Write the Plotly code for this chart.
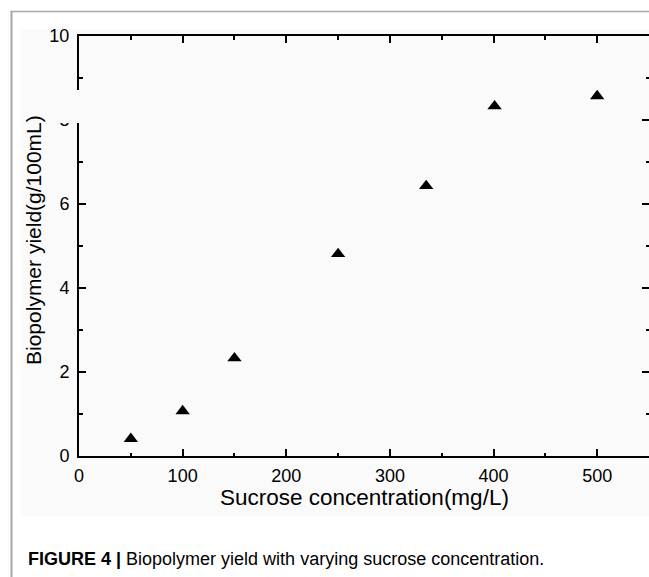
import plotly.graph_objects as go

# Data
sucrose = [50, 100, 150, 250, 335, 401, 500]
yield_g = [0.41, 1.07, 2.33, 4.81, 6.43, 8.33, 8.57]

x_title = "Sucrose concentration(mg/L)"
y_title = "Biopolymer yield(g/100mL)"
caption = "<b>FIGURE 4 |</b> Biopolymer yield with varying sucrose concentration."

W, H = 649, 577
L, R, T, B = 79, 0, 36, 121
PW = W - L - R
PH = H - T - B


def px(x):
    return (x - L) / PW


def py(y):
    return (H - B - y) / PH


FONT = "Liberation Sans, Arial, sans-serif"

fig = go.Figure()
fig.add_trace(go.Scatter(
    x=sucrose, y=yield_g, mode="markers",
    marker=dict(symbol="triangle-up", size=12.5, color="black"),
    showlegend=False, hoverinfo="x+y",
))
# invisible trace to carry the right-side tick axis
fig.add_trace(go.Scatter(
    x=sucrose, y=yield_g, mode="markers", yaxis="y2",
    marker=dict(opacity=0), showlegend=False, hoverinfo="skip",
))

tickfont = dict(family=FONT, size=18, color="black")

fig.update_layout(
    width=W, height=H,
    margin=dict(l=L, r=R, t=T, b=B, pad=0),
    paper_bgcolor="white",
    plot_bgcolor="rgba(0,0,0,0)",
    font=dict(family=FONT, color="black"),
    xaxis=dict(
        range=[0, 550], tickvals=[0, 100, 200, 300, 400, 500],
        showline=True, linecolor="black", linewidth=2, mirror="ticks",
        ticks="inside", ticklen=7, tickwidth=1.5, tickcolor="black",
        minor=dict(tickvals=[50, 150, 250, 350, 450, 550], ticks="inside",
                   ticklen=3.5, tickwidth=1.5, tickcolor="black"),
        showgrid=False, zeroline=False, tickfont=tickfont, ticklabelstandoff=2,
    ),
    yaxis=dict(
        range=[0, 10], tickvals=[0, 2, 4, 6, 8, 10],
        showline=True, linecolor="black", linewidth=2, mirror=False,
        ticks="inside", ticklen=7, tickwidth=1.5, tickcolor="black",
        minor=dict(tickvals=[1, 3, 5, 7, 9], ticks="inside",
                   ticklen=3.5, tickwidth=1.5, tickcolor="black"),
        showgrid=False, zeroline=False, tickfont=tickfont, ticklabelstandoff=4,
    ),
    yaxis2=dict(
        range=[0, 10], overlaying="y", side="right",
        tickvals=[0, 2, 4, 6, 8, 10], showticklabels=False,
        showline=False, ticks="inside", ticklen=7, tickwidth=1.5, tickcolor="black",
        minor=dict(tickvals=[1, 3, 5, 7, 9], ticks="inside",
                   ticklen=3.5, tickwidth=1.5, tickcolor="black"),
        showgrid=False, zeroline=False,
    ),
)

shapes = [
    # light grey image background
    dict(type="rect", xref="paper", yref="paper", layer="below",
         x0=px(21), x1=px(660), y0=py(516), y1=py(29),
         fillcolor="#fafafa", line=dict(width=0)),
    # outer frame
    dict(type="line", xref="paper", yref="paper", layer="below",
         x0=px(11.5), x1=px(11.5), y0=py(11), y1=py(590),
         line=dict(color="#a8a8a8", width=2)),
    dict(type="line", xref="paper", yref="paper", layer="below",
         x0=px(10.5), x1=px(660), y0=py(11.5), y1=py(11.5),
         line=dict(color="#a8a8a8", width=1.5)),
    # gap in the left axis (as in the reference)
    dict(type="rect", xref="paper", yref="paper", layer="above",
         x0=px(45), x1=px(88), y0=py(123), y1=py(90),
         fillcolor="#fafafa", line=dict(width=0)),
]
fig.update_layout(shapes=shapes)

fig.add_annotation(text=x_title, xref="paper", yref="paper",
                   x=px(364), y=py(497), xanchor="center", yanchor="middle",
                   showarrow=False, font=dict(family=FONT, size=22.5, color="black"))
fig.add_annotation(text=y_title, xref="paper", yref="paper", textangle=-90,
                   x=px(33), y=py(240), xanchor="center", yanchor="middle",
                   showarrow=False, font=dict(family=FONT, size=21, color="black"))
fig.add_annotation(text=caption, xref="paper", yref="paper",
                   x=px(26), y=py(559), xanchor="left", yanchor="middle",
                   showarrow=False, font=dict(family=FONT, size=18, color="black"))

fig.write_html("out.html")
